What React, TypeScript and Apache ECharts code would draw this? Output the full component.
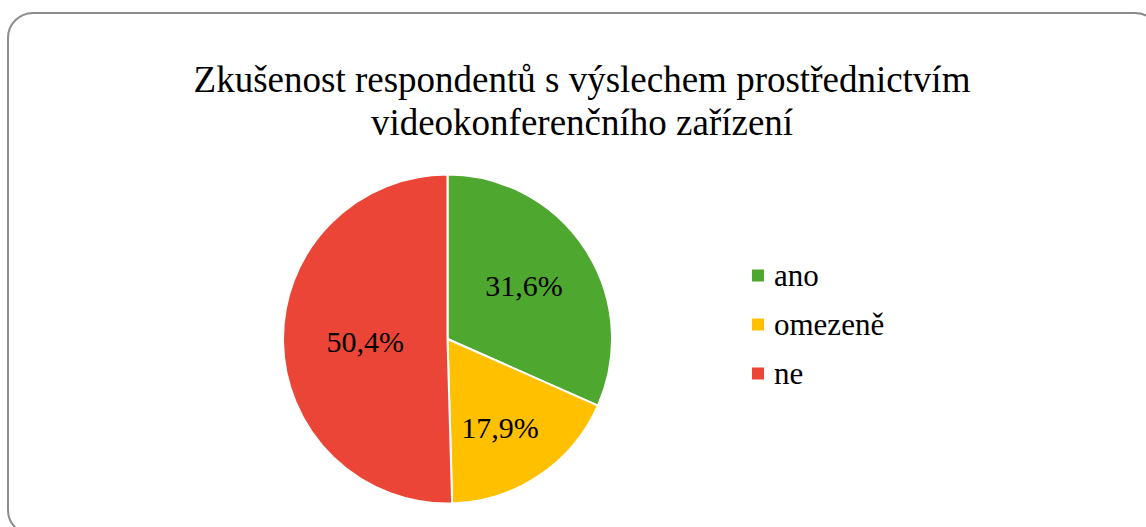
import React, { useEffect, useRef } from "react";
import * as echarts from "echarts";

const titleLines = ["Zkušenost respondentů s výslechem prostřednictvím", "videokonferenčního zařízení"];
const categories = ["ano", "omezeně", "ne"];
const values = [31.6, 17.9, 50.4];
const valueLabels = ["31,6%", "17,9%", "50,4%"];
const colors = ["#4EA72E", "#FFC000", "#EB4537"];
const labelOffsets = [[5, -7], [5, 18], [3, 1]];

const FONT = "Liberation Serif";

export default function App() {
  const ref = useRef<HTMLDivElement>(null);
  useEffect(() => {
    if (!ref.current) return;
    const chart = echarts.init(ref.current, undefined, { renderer: "svg" });
    chart.setOption({
      animation: false,
      backgroundColor: "#ffffff",
      graphic: [
        {
          type: "rect",
          shape: { x: 8, y: 13, width: 1152, height: 522, r: 25 },
          style: { fill: "none", stroke: "#8c8c8c", lineWidth: 2 },
          silent: true,
        },
        {
          type: "text",
          x: 582,
          y: 58,
          style: {
            text: titleLines.join("\n"),
            fontFamily: FONT,
            fontSize: 37,
            lineHeight: 43,
            fill: "#000",
            align: "center",
            verticalAlign: "top",
          },
        },
      ],
      legend: {
        orient: "vertical",
        left: 745,
        top: 255,
        itemWidth: 14,
        itemHeight: 14,
        itemGap: 18,
        icon: "rect",
        data: categories,
        textStyle: {
          fontFamily: FONT,
          fontSize: 31,
          lineHeight: 30,
          color: "#000",
          padding: [0, 0, 0, 4],
        },
      },
      series: [
        {
          type: "pie",
          center: [447.5, 339],
          radius: 164.5,
          startAngle: 90,
          clockwise: true,
          label: {
            show: true,
            position: "inside",
            fontFamily: FONT,
            fontSize: 30,
            color: "#000",
            formatter: (p: any) => valueLabels[p.dataIndex],
          },
          labelLine: { show: false },
          itemStyle: { borderColor: "#ffffff", borderWidth: 2 },
          emphasis: { disabled: true },
          data: categories.map((name, i) => ({
            name,
            value: values[i],
            itemStyle: { color: colors[i] },
            label: { offset: labelOffsets[i] },
          })),
        },
      ],
    });
    return () => chart.dispose();
  }, []);
  return (
    <div
      ref={ref}
      style={{ position: "absolute", left: 0, top: 0, width: 1146, height: 527 }}
    />
  );
}
